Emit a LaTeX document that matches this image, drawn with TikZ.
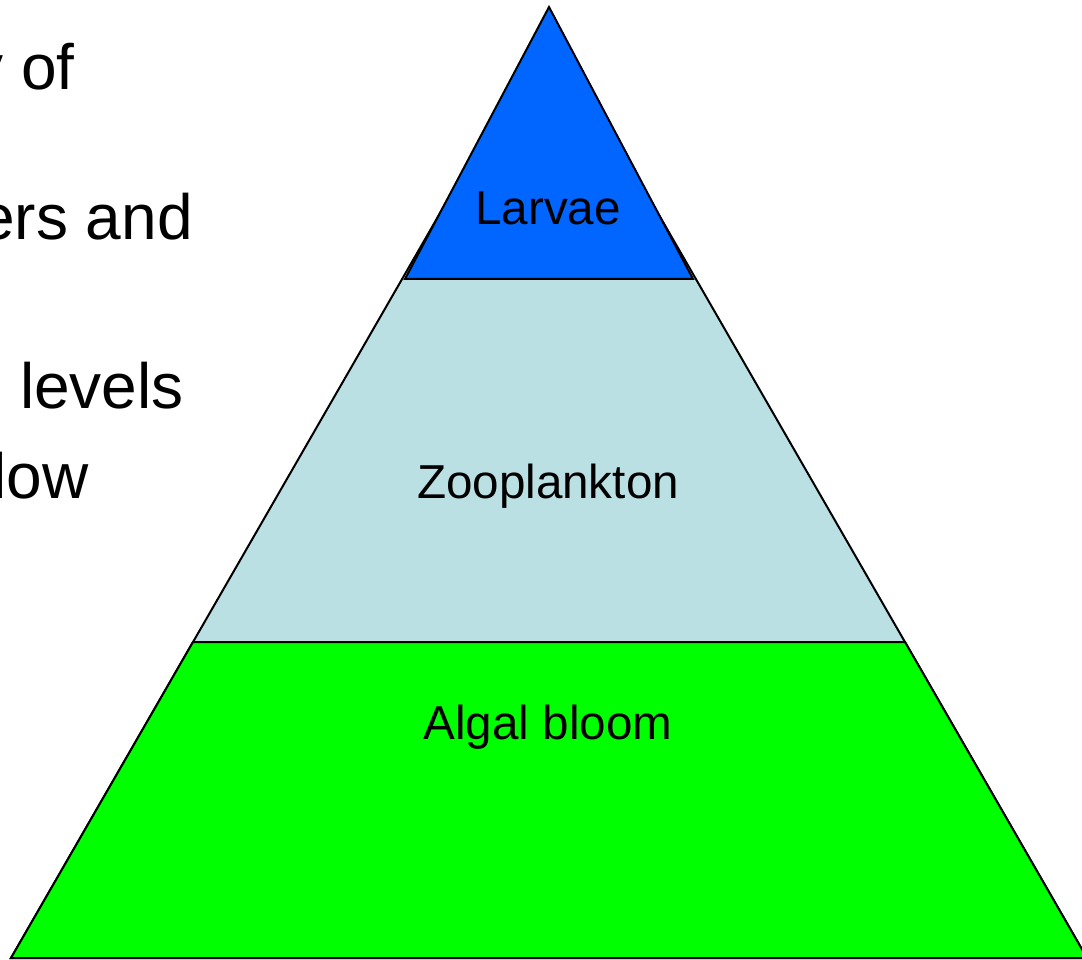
\documentclass[tikz,border=0pt]{standalone}
\usepackage{fontspec}
\setmainfont{Liberation Sans}
\definecolor{larvaeblue}{HTML}{0066FF}
\definecolor{zooblue}{HTML}{BBE0E3}
\definecolor{algalgreen}{HTML}{00FF00}
\begin{document}
\begin{tikzpicture}[x=1pt,y=-1pt,
  layer/.style={draw=black,line width=2pt,line join=miter},
  tier/.style={font=\fontsize{47.6}{57}\selectfont,inner sep=0pt,anchor=base},
  bullet/.style={font=\fontsize{64}{77}\selectfont,inner sep=0pt,anchor=base east}]
\useasboundingbox (0,0) rectangle (1082,960);

% outer pyramid and its bands
\coordinate (apex) at (549,24);
\coordinate (bl) at (11,958);
\coordinate (br) at (1087,958);
\path[layer,fill=zooblue] (apex) -- (bl) -- (br) -- cycle;
\path[layer,fill=algalgreen] (193,642) -- (bl) -- (br) -- (905,642) -- cycle;
\path[layer,fill=larvaeblue] (549,7) -- (405,279) -- (693,279) -- cycle;

% tier labels
\node[tier] (larvae) at (548,225) {Larvae};
\node[tier] (zoo) at (548,498) {Zooplankton};
\node[tier] (algal) at (548,739) {Algal bloom};

% wrapped lines of the side text
\node[bullet] (l1) at (75,90) {y of};
\node[bullet] (l2) at (193,240) {ers and};
\node[bullet] (l3) at (184,408) {levels};
\node[bullet] (l4) at (89,498) {low};
\end{tikzpicture}
\end{document}
